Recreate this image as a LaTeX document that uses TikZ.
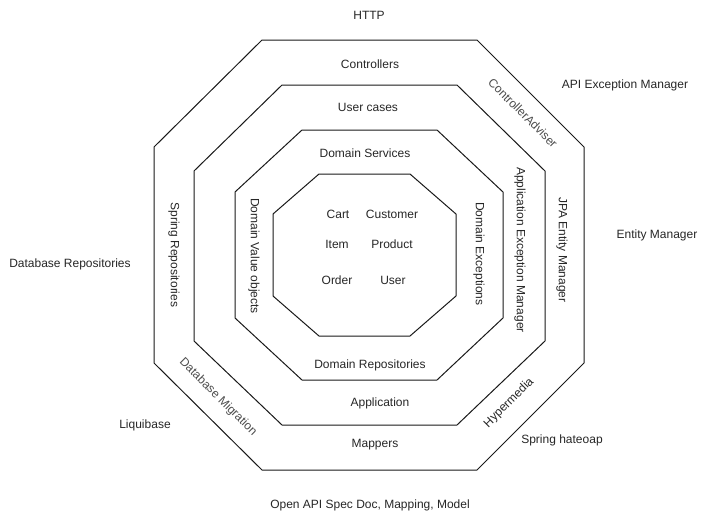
\documentclass[tikz,border=0pt]{standalone}
\usepackage{fontspec}
\setmainfont{Liberation Sans}
\usetikzlibrary{calc}

\begin{document}
\begin{tikzpicture}[x=1pt,y=-1pt,
    lbl/.style={font=\fontsize{12}{14}\selectfont,text=black!85,inner sep=0pt},
    ring/.style={draw=black!90,line width=1pt,line join=miter}]
    \useasboundingbox (0,0) rectangle (705,520);

    % Outer ring (infrastructure)
    \draw[ring] (262,40) -- (477,40) -- (584,147) -- (584,363) -- (477,470) -- (262,470) -- (154,363) -- (154,147) -- cycle;

    % Second ring (application)
    \draw[ring] (282,85) -- (457,85) -- (545,171) -- (545,341) -- (457,425) -- (282,425) -- (194,341) -- (194,171) -- cycle;

    % Third ring (domain)
    \draw[ring] (302,130) -- (437,130) -- (503,192) -- (503,318) -- (437,380) -- (302,380) -- (235,318) -- (235,192) -- cycle;

    % Inner core (entities)
    \draw[ring] (319,174) -- (410,174) -- (456,214) -- (456,296) -- (410,336) -- (319,336) -- (273,296) -- (273,214) -- cycle;

    % Entities in the core
    \node[lbl] (cart) at (338,214) {Cart};
    \node[lbl] (customer) at (392,214) {Customer};
    \node[lbl] (item) at (337,244) {Item};
    \node[lbl] (product) at (392,244) {Product};
    \node[lbl] (order) at (337,280) {Order};
    \node[lbl] (user) at (393,280) {User};

    % Domain ring labels
    \node[lbl] (domserv) at (365,153) {Domain Services};
    \node[lbl] (domrepo) at (370,365) {Domain Repositories};
    \node[lbl,rotate=-90] (domvalue) at (254,256) {Domain Value objects};
    \node[lbl,rotate=-90] (domexc) at (479,254) {Domain Exceptions};

    % Application ring labels
    \node[lbl] (usecases) at (368,107) {User cases};
    \node[lbl] (application) at (380,403) {Application};
    \node[lbl,rotate=-90] (appexc) at (520,250) {Application Exception Manager};

    % Outer ring labels
    \node[lbl] (controllers) at (370,64) {Controllers};
    \node[lbl] (mappers) at (375,445) {Mappers};
    \node[lbl,rotate=-90] (springrepo) at (174,255) {Spring Repositories};
    \node[lbl,rotate=-90] (jpa) at (562,250) {JPA Entity Manager};
    \node[lbl,rotate=-45,text=black!70] (adviser) at (523,113) {ControllerAdviser};
    \node[lbl,rotate=-45,text=black!70] (migration) at (218,397) {Database Migration};
    \node[lbl,rotate=45] (hypermedia) at (509,403) {Hypermedia};

    % Outside world
    \node[lbl] (http) at (369,15) {HTTP};
    \node[lbl] (apiexc) at (625,85) {API Exception Manager};
    \node[lbl] (entman) at (657,235) {Entity Manager};
    \node[lbl] (dbrepo) at (70,264) {Database Repositories};
    \node[lbl] (liquibase) at (145,425) {Liquibase};
    \node[lbl] (hateoas) at (562,440) {Spring hateoap};
    \node[lbl] (openapi) at (370,505) {Open API Spec Doc, Mapping, Model};

\end{tikzpicture}
\end{document}
